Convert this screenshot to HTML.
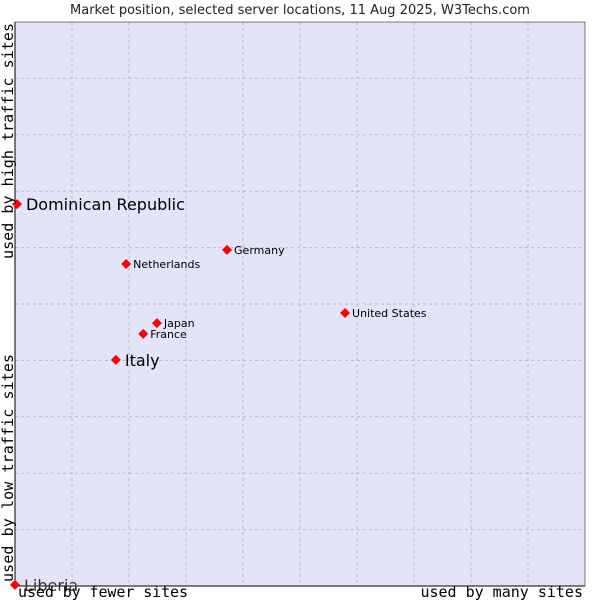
<!DOCTYPE html>
<html><head><meta charset="utf-8"><style>
body{margin:0;background:#fff;}
svg{display:block;font-family:"DejaVu Sans","Liberation Sans",sans-serif;}
.mono{font-family:"DejaVu Sans Mono","Liberation Mono",monospace;}
</style></head><body>
<svg id="chart" width="600" height="600">
<text x="300" y="14" text-anchor="middle" font-size="13" fill="#222">Market position, selected server locations, 11 Aug 2025, W3Techs.com</text>
<rect x="15" y="22" width="570" height="564" fill="#e4e4f8"/>
<g id="grid"></g>
<line x1="15" y1="22" x2="15" y2="586" stroke="#000"/>
<line x1="15" y1="586" x2="585" y2="586" stroke="#000"/>
<line x1="15" y1="22" x2="585" y2="22" stroke="#000" stroke-width="0.5"/>
<line x1="585" y1="22" x2="585" y2="586" stroke="#000" stroke-width="0.5"/>
<g id="points"></g>
<text class="mono" x="18" y="597" font-size="15" textLength="170" fill="#000">used by fewer sites</text>
<text class="mono" x="583" y="597" font-size="15" text-anchor="end" fill="#000">used by many sites</text>
<text class="mono" transform="translate(13,582) rotate(-90)" font-size="15" textLength="228" fill="#000">used by low traffic sites</text>
<text class="mono" transform="translate(13,259) rotate(-90)" font-size="15" textLength="236" fill="#000">used by high traffic sites</text>
</svg>
<script>
const names = ["Dominican Republic","Italy","Liberia","Netherlands","Germany","United States","Japan","France"];
const xVals = [0.35,17.7,0,19.5,37.2,57.9,24.9,22.5];
const yVals = [67.7,40.1,0.2,57.1,59.6,48.4,46.6,44.7];
const big = [true,true,true,false,false,false,false,false];
const NS="http://www.w3.org/2000/svg";
const L=15,R=585,T=22,B=586;
function sx(v){return L+(R-L)*v/100;}
function sy(v){return B-(B-T)*v/100;}
const grid=document.getElementById('grid');
for(let i=1;i<10;i++){
  const gx=document.createElementNS(NS,'line');
  gx.setAttribute('x1',sx(i*10));gx.setAttribute('x2',sx(i*10));gx.setAttribute('y1',T);gx.setAttribute('y2',B);
  gx.setAttribute('stroke','#bbb');gx.setAttribute('stroke-dasharray','3,3');
  
  
  grid.appendChild(gx);
  const gy=document.createElementNS(NS,'line');
  gy.setAttribute('y1',sy(i*10));gy.setAttribute('y2',sy(i*10));gy.setAttribute('x1',L);gy.setAttribute('x2',R);
  gy.setAttribute('stroke','#bbb');gy.setAttribute('stroke-dasharray','3,3');
  
  
  grid.appendChild(gy);
}
const pts=document.getElementById('points');
names.forEach((n,i)=>{
  const x=sx(xVals[i]),y=sy(yVals[i]);
  const d=document.createElementNS(NS,'path');
  d.setAttribute('d',`M${x-5},${y}L${x},${y-5}L${x+5},${y}L${x},${y+5}Z`);
  d.setAttribute('fill','#f00');
  
  
  pts.appendChild(d);
  const t=document.createElementNS(NS,'text');
  t.setAttribute('x',x+(big[i]?9:7));t.setAttribute('y',y+(big[i]?6:4));
  t.setAttribute('font-size',big[i]?16:11);
  t.setAttribute('fill',n==="Liberia"?'#333':'#000');
  t.textContent=n;
  
  
  pts.appendChild(t);
});
</script>
</body></html>
